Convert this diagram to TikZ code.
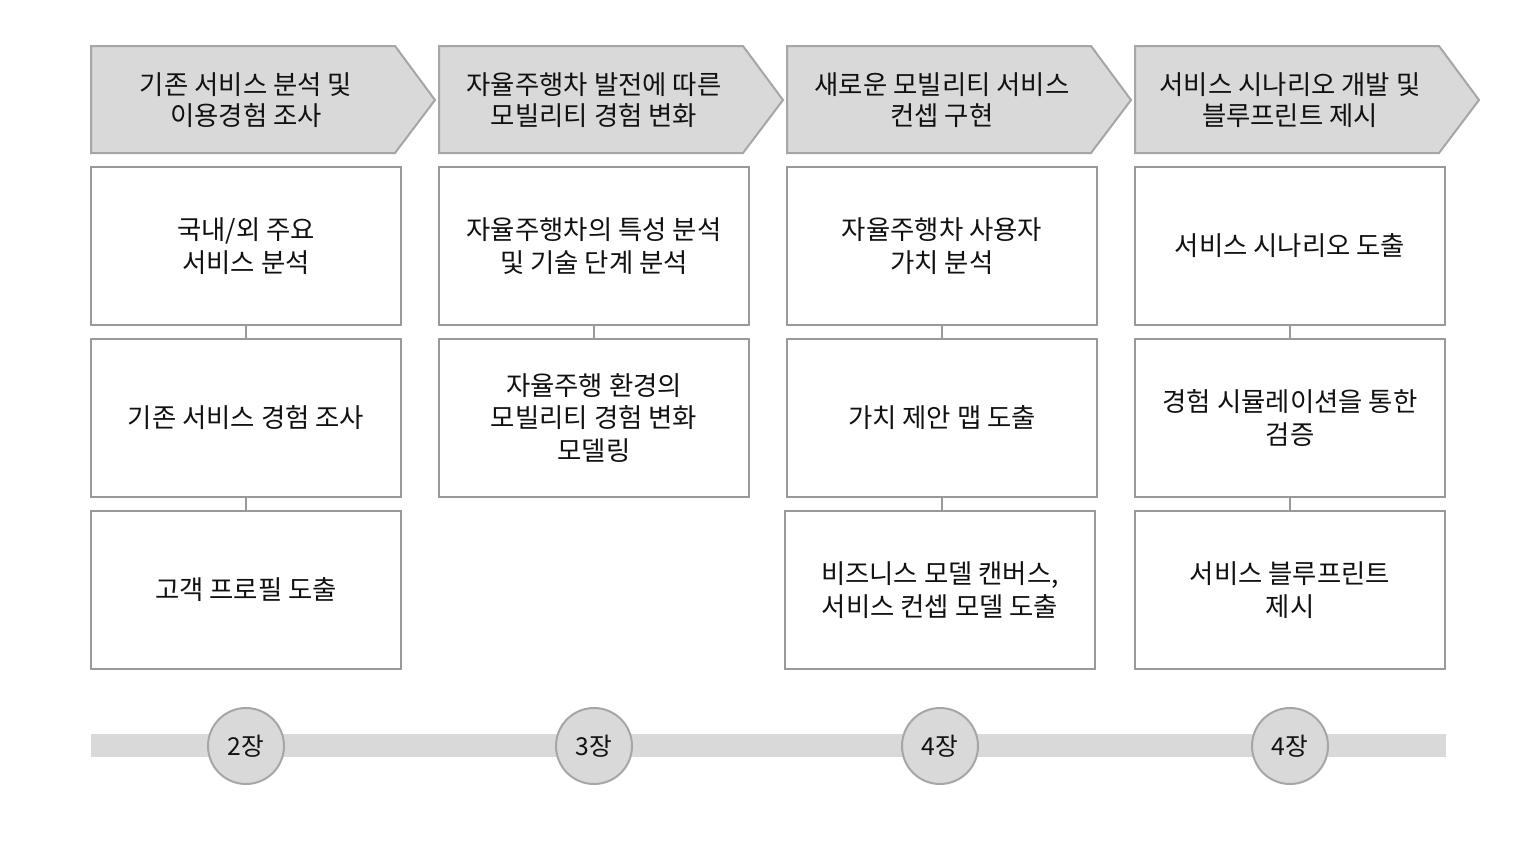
\documentclass[tikz,border=0pt]{standalone}
\usepackage{fontspec}
\setmainfont{Noto Sans CJK KR}
\definecolor{hdrfill}{HTML}{D9D9D9}
\definecolor{hdrline}{HTML}{A6A6A6}
\definecolor{boxline}{HTML}{999999}
\definecolor{txt}{HTML}{111111}
\tikzset{
  hdrshape/.style={fill=hdrfill,draw=hdrline,line width=1.5pt,line join=miter},
  hdrtext/.style={text=txt,align=center,font=\fontsize{19.8pt}{23.3pt}\selectfont},
  stepbox/.style={draw=boxline,line width=1.5pt,fill=white,minimum width=232.5pt,minimum height=118.5pt,align=center,text=txt,inner sep=0pt,font=\fontsize{19.8pt}{24.5pt}\selectfont},
  link/.style={draw=boxline,line width=1pt},
  chap/.style={circle,fill=hdrfill,draw=hdrline,line width=1.5pt,minimum size=57pt,inner sep=0pt,text=txt,font=\fontsize{18.5pt}{21pt}\selectfont},
}
\begin{document}
\begin{tikzpicture}[x=0.75pt,y=-0.75pt]
\useasboundingbox (0,0) rectangle (1534,840);
% timeline bar
\fill[hdrfill] (91,734) rectangle (1446,757);
% headers
\foreach \x in {91,439,787,1135}{
  \draw[hdrshape] (\x,46) -- (\x+304,46) -- (\x+344,100) -- (\x+304,153) -- (\x,153) -- cycle;
}
\node[hdrtext] (h1) at (246,100) {기존 서비스 분석 및\\이용경험 조사};
\node[hdrtext] (h2) at (594,100) {자율주행차 발전에 따른\\모빌리티 경험 변화};
\node[hdrtext] (h3) at (942,100) {새로운 모빌리티 서비스\\컨셉 구현};
\node[hdrtext] (h4) at (1290,100) {서비스 시나리오 개발 및\\블루프린트 제시};
% column 1
\node[stepbox] (a1) at (246,246) {국내/외 주요\\서비스 분석};
\node[stepbox] (a2) at (246,418) {기존 서비스 경험 조사};
\node[stepbox] (a3) at (246,590) {고객 프로필 도출};
% column 2
\node[stepbox] (b1) at (594,246) {자율주행차의 특성 분석\\및 기술 단계 분석};
\node[stepbox] (b2) at (594,418) {자율주행 환경의\\모빌리티 경험 변화\\모델링};
% column 3
\node[stepbox] (c1) at (942,246) {자율주행차 사용자\\가치 분석};
\node[stepbox] (c2) at (942,418) {가치 제안 맵 도출};
\node[stepbox] (c3) at (940,590) {비즈니스 모델 캔버스,\\서비스 컨셉 모델 도출};
% column 4
\node[stepbox] (d1) at (1290,246) {서비스 시나리오 도출};
\node[stepbox] (d2) at (1290,418) {경험 시뮬레이션을 통한\\검증};
\node[stepbox] (d3) at (1290,590) {서비스 블루프린트\\제시};
% connectors
\draw[link] (a1.south) -- (a2.north);
\draw[link] (a2.south) -- (a3.north);
\draw[link] (b1.south) -- (b2.north);
\draw[link] (c1.south) -- (c2.north);
\draw[link] (c2.south) -- (c2.south |- c3.north);
\draw[link] (d1.south) -- (d2.north);
\draw[link] (d2.south) -- (d3.north);
% chapter circles
\node[chap] (k1) at (246,746) {2장};
\node[chap] (k2) at (594,746) {3장};
\node[chap] (k3) at (940,746) {4장};
\node[chap] (k4) at (1290,746) {4장};
\end{tikzpicture}
\end{document}
